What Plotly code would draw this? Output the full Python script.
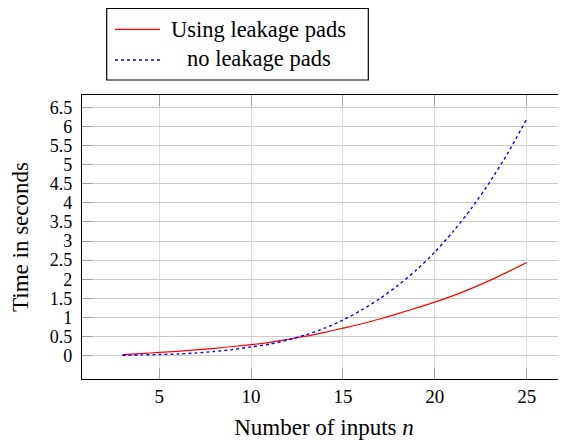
import plotly.graph_objects as go

# ---- data ----
n_inputs = list(range(3, 26))
with_pads = [0.03, 0.055, 0.085, 0.115, 0.15, 0.19, 0.24, 0.29, 0.35, 0.43, 0.51, 0.61,
             0.72, 0.83, 0.96, 1.10, 1.25, 1.40, 1.57, 1.76, 1.97, 2.20, 2.44]
no_pads = [0.01, 0.02, 0.03, 0.045, 0.07, 0.11, 0.16, 0.23, 0.30, 0.41, 0.55, 0.72,
           0.93, 1.19, 1.49, 1.84, 2.24, 2.71, 3.25, 3.86, 4.55, 5.32, 6.19]
series_names = ["Using leakage pads", "no leakage pads"]
x_ticks = [5, 10, 15, 20, 25]
y_ticks = [0, 0.5, 1, 1.5, 2, 2.5, 3, 3.5, 4, 4.5, 5, 5.5, 6, 6.5]
y_tick_labels = ["0", "0.5", "1", "1.5", "2", "2.5", "3", "3.5", "4", "4.5", "5", "5.5", "6", "6.5"]
x_title = "Number of inputs <i>n</i>"
y_title = "Time in seconds"

FONT = "Liberation Serif, DejaVu Serif, serif"
OFF = 8  # page body margin
W, H = 566 - OFF, 440 - OFF
L, R, T, B = 74, 0, 87, 61
PW, PH = W - L - R, H - T - B

def px(x):  # reference-picture x -> paper
    return (x - OFF - L) / PW

def py(y):  # reference-picture y -> paper
    return (H - B - (y - OFF)) / PH

fig = go.Figure()
fig.add_trace(go.Scatter(x=n_inputs, y=with_pads, mode="lines", name=series_names[0],
                         line=dict(color="#ff0000", width=1.2, shape="spline", smoothing=0.6),
                         showlegend=False))
fig.add_trace(go.Scatter(x=n_inputs, y=no_pads, mode="lines", name=series_names[1],
                         line=dict(color="#0000ff", width=1.4, dash="dot", shape="spline",
                                   smoothing=0.6),
                         showlegend=False))

yr = [-0.61, 6.82]
fig.update_layout(
    width=W, height=H,
    margin=dict(l=L, r=R, t=T, b=B, autoexpand=False),
    plot_bgcolor="white", paper_bgcolor="white",
    font=dict(family=FONT, size=22, color="black"),
    xaxis=dict(range=[0.8, 27.14], tickvals=x_ticks, ticks="inside", ticklen=11,
               tickcolor="#a0a0a0", tickwidth=1.3, showline=True, linecolor="black",
               linewidth=1.2, mirror="ticks", showgrid=True, gridcolor="#dcdcdc",
               gridwidth=1.3, zeroline=False, tickfont=dict(size=19, family=FONT),
               automargin=False,
               title=dict(text=x_title, font=dict(size=23, family=FONT), standoff=12)),
    yaxis=dict(range=yr, tickvals=y_ticks, ticktext=y_tick_labels, ticks="inside",
               ticklen=11, tickcolor="#a0a0a0", tickwidth=1.3, showline=True,
               linecolor="black", linewidth=1.2, mirror=False, showgrid=True,
               gridcolor="#cccccc", gridwidth=1.1, zeroline=False,
               tickfont=dict(size=18, family=FONT), automargin=False,
               ticklabelstandoff=5,
               title=dict(text=y_title, font=dict(size=23, family=FONT), standoff=16)),
    yaxis2=dict(overlaying="y", side="right", range=yr, tickvals=y_ticks,
                showticklabels=False, ticks="inside", ticklen=11, tickcolor="#a0a0a0",
                tickwidth=1.3, showgrid=False, showline=False, zeroline=False,
                automargin=False),
)

# legend box drawn by hand (centred entries like the reference)
fig.add_shape(type="rect", xref="paper", yref="paper",
              x0=px(106.7), x1=px(368.3), y0=py(80), y1=py(8.3),
              line=dict(color="black", width=1.2), fillcolor="white", layer="above")
fig.add_shape(type="line", xref="paper", yref="paper",
              x0=px(115), x1=px(160), y0=py(29.3), y1=py(29.3),
              line=dict(color="#ff0000", width=1.2))
fig.add_shape(type="line", xref="paper", yref="paper",
              x0=px(115), x1=px(160), y0=py(60), y1=py(60),
              line=dict(color="#0000ff", width=1.4, dash="dot"))
fig.add_annotation(xref="paper", yref="paper", x=px(258.7), y=py(29), text=series_names[0],
                   showarrow=False, xanchor="center", yanchor="middle",
                   font=dict(size=22.5, family=FONT))
fig.add_annotation(xref="paper", yref="paper", x=px(259.2), y=py(59), text=series_names[1],
                   showarrow=False, xanchor="center", yanchor="middle",
                   font=dict(size=22.5, family=FONT))

fig.write_html("out.html")
